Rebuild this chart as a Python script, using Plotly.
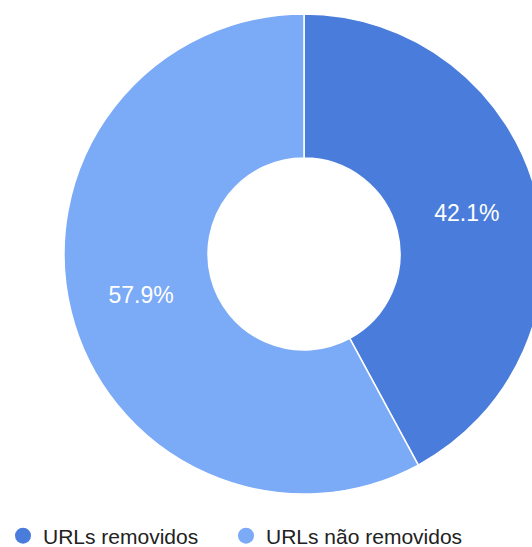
import plotly.graph_objects as go

labels = ["URLs removidos", "URLs não removidos"]
values = [42.1, 57.9]
colors = ["#4a7ddb", "#7baaf7"]

W, H = 560, 547
fig = go.Figure()
fig.add_trace(go.Pie(
    labels=labels, values=values, hole=0.40, sort=False, direction="clockwise",
    rotation=0, marker=dict(colors=colors, line=dict(color="white", width=1.5)),
    textinfo="percent", textposition="inside", insidetextorientation="horizontal",
    textfont=dict(color="white", size=23, family="Arial"),
    showlegend=False, hoverinfo="label+percent",
    domain=dict(x=[64 / W, 544 / W], y=[(H - 494) / H, (H - 14) / H]),
))
legend_names = ["legend", "legend2"]
legend_x = [3 / W, 226 / W]
for lab, col, lg in zip(labels, colors, legend_names):
    fig.add_trace(go.Scatter(x=[None], y=[None], mode="markers", name=lab, legend=lg,
                             marker=dict(color=col, size=16, symbol="circle")))
leg_common = dict(orientation="h", xanchor="left", y=(H - 536) / H, yanchor="middle",
                  font=dict(family="Arial", size=21, color="#222222"), itemsizing="trace",
                  bgcolor="rgba(0,0,0,0)")
fig.update_layout(
    width=W, height=H, margin=dict(l=0, r=0, t=0, b=0, autoexpand=False),
    paper_bgcolor="white", plot_bgcolor="white",
    xaxis=dict(visible=False), yaxis=dict(visible=False),
    showlegend=True,
    legend=dict(x=legend_x[0], **leg_common),
    legend2=dict(x=legend_x[1], **leg_common),
    font=dict(family="Arial"),
)
fig.write_html("out.html")
